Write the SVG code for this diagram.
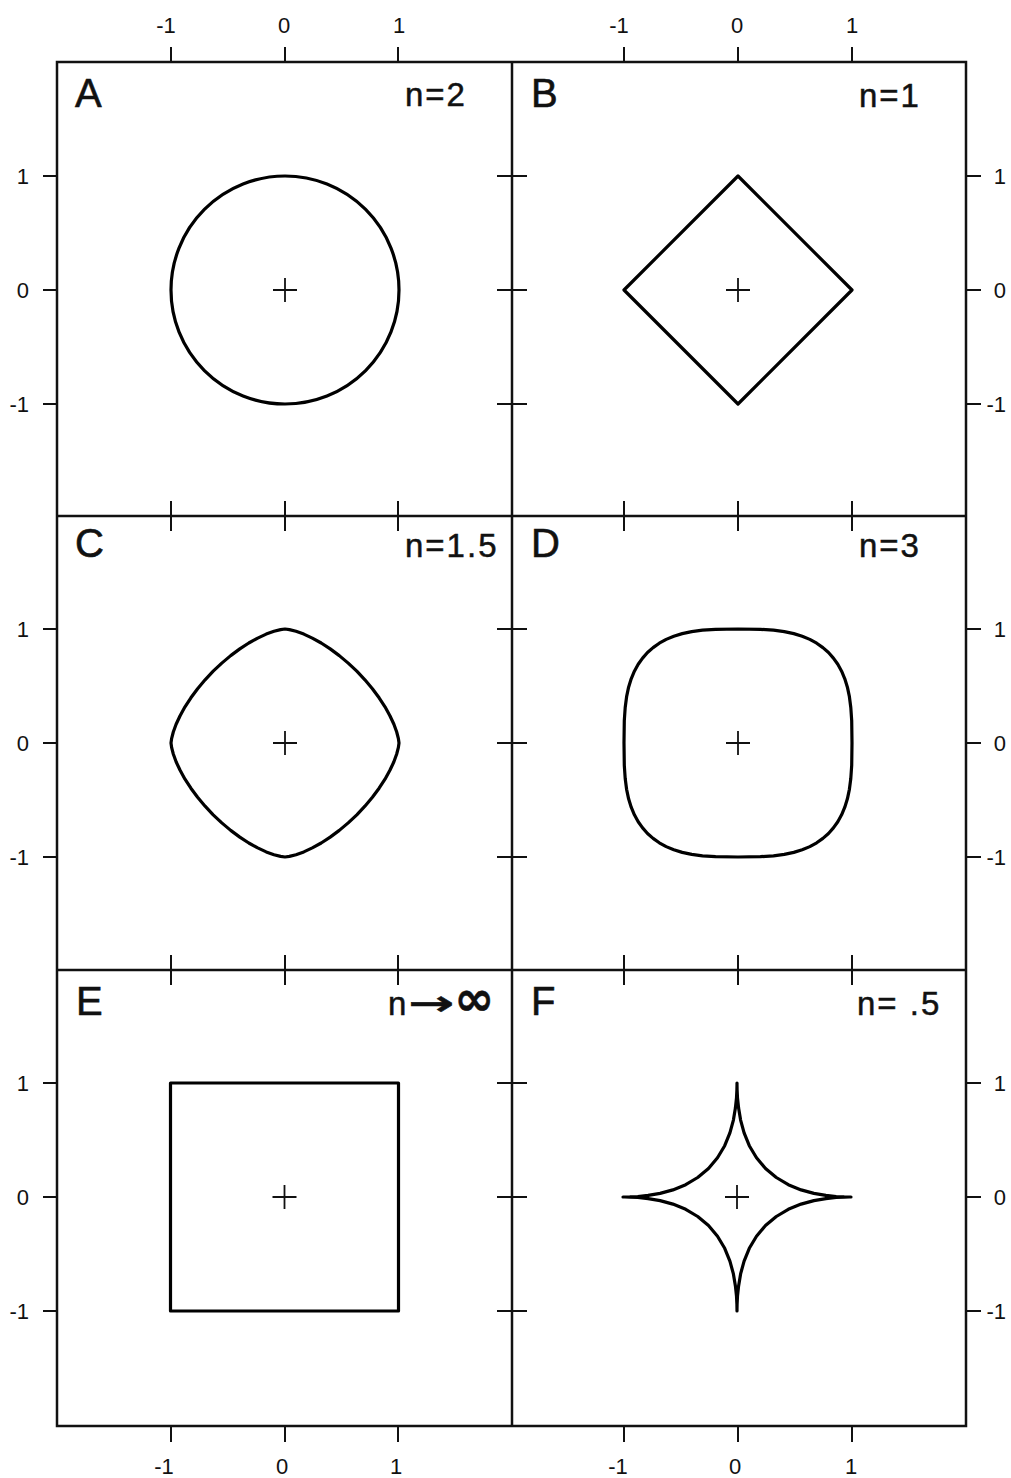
<svg xmlns="http://www.w3.org/2000/svg" width="1011" height="1478" viewBox="0 0 1011 1478">
<style>
.frame{fill:none;stroke:#111;stroke-width:2.5}
.tick{fill:none;stroke:#111;stroke-width:2}
.curve{fill:none;stroke:#000;stroke-width:3.2;stroke-linejoin:round;stroke-linecap:round}
.cross{fill:none;stroke:#111;stroke-width:1.8}
.tl{font-family:"Liberation Sans",Arial,sans-serif;font-size:22px;fill:#111}
.pl{font-family:"Liberation Sans",Arial,sans-serif;font-size:40px;fill:#111;stroke:#111;stroke-width:0.6}
.nl{font-family:"Liberation Sans",Arial,sans-serif;font-size:33px;letter-spacing:2px;fill:#111;stroke:#111;stroke-width:0.5}
.arr{font-family:"DejaVu Sans",sans-serif;font-weight:bold;font-size:34px;letter-spacing:0}
.inf{font-family:"DejaVu Sans",sans-serif;font-weight:bold;font-size:48px;letter-spacing:0}
.mid{text-anchor:middle}
.end{text-anchor:end}
</style>
<defs>
<path id="cr" class="cross" d="M-12,0H12M0,-12V12"/>
</defs>
<rect width="1011" height="1478" fill="#fff"/>
<g id="axes">
<path class="frame" d="M57,62H966V1426H57Z M512,62V1426 M57,516H966 M57,970H966"/>
<path class="tick" d="M171,47V62M285,47V62M398,47V62M624,47V62M738,47V62M852,47V62
M171,501V531M285,501V531M398,501V531M624,501V531M738,501V531M852,501V531
M171,955V985M285,955V985M398,955V985M624,955V985M738,955V985M852,955V985
M171,1426V1442M285,1426V1442M398,1426V1442M624,1426V1442M738,1426V1442M852,1426V1442
M43,176H57M43,290H57M43,404H57M43,629H57M43,743H57M43,857H57M43,1083H57M43,1197H57M43,1311H57
M497,176H527M497,290H527M497,404H527M497,629H527M497,743H527M497,857H527M497,1083H527M497,1197H527M497,1311H527
M966,176H981M966,290H981M966,404H981M966,629H981M966,743H981M966,857H981M966,1083H981M966,1197H981M966,1311H981"/>
<g class="tl mid">
<text x="166" y="33">-1</text><text x="284" y="33">0</text><text x="399" y="33">1</text>
<text x="619" y="33">-1</text><text x="737" y="33">0</text><text x="852" y="33">1</text>
<text x="164" y="1474">-1</text><text x="282" y="1474">0</text><text x="396" y="1474">1</text>
<text x="618" y="1474">-1</text><text x="735" y="1474">0</text><text x="851" y="1474">1</text>
</g>
<g class="tl end">
<text x="29" y="184">1</text><text x="29" y="298">0</text><text x="29" y="412">-1</text>
<text x="29" y="637">1</text><text x="29" y="751">0</text><text x="29" y="865">-1</text>
<text x="29" y="1091">1</text><text x="29" y="1205">0</text><text x="29" y="1319">-1</text>
<text x="1006" y="184">1</text><text x="1006" y="298">0</text><text x="1006" y="412">-1</text>
<text x="1006" y="637">1</text><text x="1006" y="751">0</text><text x="1006" y="865">-1</text>
<text x="1006" y="1091">1</text><text x="1006" y="1205">0</text><text x="1006" y="1319">-1</text>
</g>
</g>
<g id="panelA">
<text class="pl" x="75" y="107">A</text>
<text class="nl" x="405" y="106">n=2</text>
<circle class="curve" cx="285" cy="290" r="114"/>
<use href="#cr" x="285" y="290"/>
</g>
<g id="panelB">
<text class="pl" x="531" y="107">B</text>
<text class="nl" x="859" y="107">n=1</text>
<path class="curve" d="M738,176L852,290L738,404L624,290Z"/>
<use href="#cr" x="738" y="290"/>
</g>
<g id="panelC">
<text class="pl" x="75" y="557">C</text>
<text class="nl" x="405" y="557">n=1.5</text>
<path class="curve" transform="translate(285,743)" d="M114,0L113.4,-4.4L111.7,-11L108.9,-18.8L104.9,-27.3L100,-36.2L94.1,-45.2L87.4,-54.3L79.9,-63.2L71.8,-71.8L63.2,-79.9L54.3,-87.4L45.2,-94.1L36.2,-100L27.3,-104.9L18.8,-108.9L11,-111.7L4.4,-113.4L0,-114L-4.4,-113.4L-11,-111.7L-18.8,-108.9L-27.3,-104.9L-36.2,-100L-45.2,-94.1L-54.3,-87.4L-63.2,-79.9L-71.8,-71.8L-79.9,-63.2L-87.4,-54.3L-94.1,-45.2L-100,-36.2L-104.9,-27.3L-108.9,-18.8L-111.7,-11L-113.4,-4.4L-114,0L-113.4,4.4L-111.7,11L-108.9,18.8L-104.9,27.3L-100,36.2L-94.1,45.2L-87.4,54.3L-79.9,63.2L-71.8,71.8L-63.2,79.9L-54.3,87.4L-45.2,94.1L-36.2,100L-27.3,104.9L-18.8,108.9L-11,111.7L-4.4,113.4L0,114L4.4,113.4L11,111.7L18.8,108.9L27.3,104.9L36.2,100L45.2,94.1L54.3,87.4L63.2,79.9L71.8,71.8L79.9,63.2L87.4,54.3L94.1,45.2L100,36.2L104.9,27.3L108.9,18.8L111.7,11L113.4,4.4Z"/>
<use href="#cr" x="285" y="743"/>
</g>
<g id="panelD">
<text class="pl" x="531" y="557">D</text>
<text class="nl" x="859" y="557">n=3</text>
<path class="curve" transform="translate(738,743)" d="M114,0L113.7,-22.4L112.8,-35.5L111.4,-46.3L109.4,-55.8L106.8,-64.2L103.6,-71.8L99.8,-78.7L95.4,-84.9L90.5,-90.5L84.9,-95.4L78.7,-99.8L71.8,-103.6L64.2,-106.8L55.8,-109.4L46.3,-111.4L35.5,-112.8L22.4,-113.7L0,-114L-22.4,-113.7L-35.5,-112.8L-46.3,-111.4L-55.8,-109.4L-64.2,-106.8L-71.8,-103.6L-78.7,-99.8L-84.9,-95.4L-90.5,-90.5L-95.4,-84.9L-99.8,-78.7L-103.6,-71.8L-106.8,-64.2L-109.4,-55.8L-111.4,-46.3L-112.8,-35.5L-113.7,-22.4L-114,0L-113.7,22.4L-112.8,35.5L-111.4,46.3L-109.4,55.8L-106.8,64.2L-103.6,71.8L-99.8,78.7L-95.4,84.9L-90.5,90.5L-84.9,95.4L-78.7,99.8L-71.8,103.6L-64.2,106.8L-55.8,109.4L-46.3,111.4L-35.5,112.8L-22.4,113.7L0,114L22.4,113.7L35.5,112.8L46.3,111.4L55.8,109.4L64.2,106.8L71.8,103.6L78.7,99.8L84.9,95.4L90.5,90.5L95.4,84.9L99.8,78.7L103.6,71.8L106.8,64.2L109.4,55.8L111.4,46.3L112.8,35.5L113.7,22.4Z"/>
<use href="#cr" x="738" y="743"/>
</g>
<g id="panelE">
<text class="pl" x="76" y="1015">E</text>
<text class="nl" x="388" y="1015">n<tspan class="arr" textLength="46" lengthAdjust="spacingAndGlyphs">→</tspan><tspan class="inf">∞</tspan></text>
<rect class="curve" x="170.5" y="1083" width="228" height="228"/>
<use href="#cr" x="284.5" y="1197"/>
</g>
<g id="panelF">
<text class="pl" x="531" y="1015">F</text>
<text class="nl" x="857" y="1015">n= .5</text>
<path class="curve" transform="translate(737,1197)" d="M114,0L112.3,0L107.2,-0.1L99.2,-0.5L88.9,-1.6L76.9,-3.6L64.1,-7.1L51.3,-12.3L39.3,-19.5L28.5,-28.5L19.5,-39.3L12.3,-51.3L7.1,-64.1L3.6,-76.9L1.6,-88.9L0.5,-99.2L0.1,-107.2L0,-112.3L0,-114L0,-112.3L-0.1,-107.2L-0.5,-99.2L-1.6,-88.9L-3.6,-76.9L-7.1,-64.1L-12.3,-51.3L-19.5,-39.3L-28.5,-28.5L-39.3,-19.5L-51.3,-12.3L-64.1,-7.1L-76.9,-3.6L-88.9,-1.6L-99.2,-0.5L-107.2,-0.1L-112.3,0L-114,0L-112.3,0L-107.2,0.1L-99.2,0.5L-88.9,1.6L-76.9,3.6L-64.1,7.1L-51.3,12.3L-39.3,19.5L-28.5,28.5L-19.5,39.3L-12.3,51.3L-7.1,64.1L-3.6,76.9L-1.6,88.9L-0.5,99.2L-0.1,107.2L0,112.3L0,114L0,112.3L0.1,107.2L0.5,99.2L1.6,88.9L3.6,76.9L7.1,64.1L12.3,51.3L19.5,39.3L28.5,28.5L39.3,19.5L51.3,12.3L64.1,7.1L76.9,3.6L88.9,1.6L99.2,0.5L107.2,0.1L112.3,0Z"/>
<use href="#cr" x="737" y="1197"/>
</g>
</svg>
